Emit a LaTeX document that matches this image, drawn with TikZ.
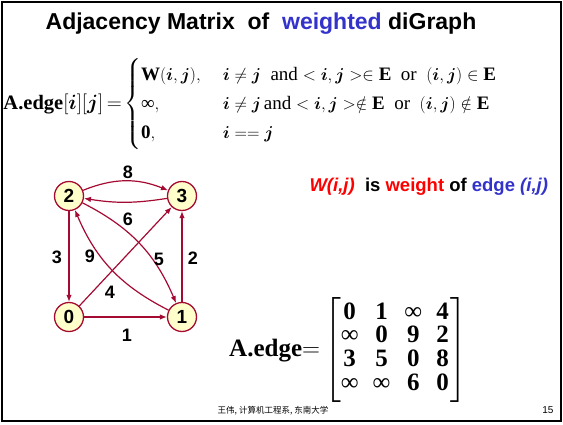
\documentclass[tikz,border=0pt]{standalone}
\usepackage{amsmath,amssymb}
\usepackage{fontspec}
\setmainfont{Liberation Serif}
\newfontfamily\arial{Liberation Sans}
\newfontfamily\cjk{Noto Sans CJK SC}
\usetikzlibrary{arrows.meta}
\definecolor{edgered}{RGB}{165,10,50}
\definecolor{nodefill}{RGB}{255,255,204}
\definecolor{wblue}{RGB}{51,51,204}
\newcommand{\bi}{\boldsymbol{i}}
\newcommand{\bj}{\boldsymbol{j}}
\newcommand{\infsym}{\text{\normalfont ∞}}
\tikzset{
  vtx/.style={circle, draw=edgered, fill=nodefill, line width=1.3pt, minimum size=29pt, inner sep=0pt, font=\arial\bfseries\fontsize{19}{19}\selectfont},
  arc/.style={draw=edgered, line width=1.2pt, -{Latex[length=7pt,width=5.5pt]}},
  wlbl/.style={font=\arial\bfseries\fontsize{18}{18}\selectfont},
  frame/.style={draw=black, line width=2pt}
}

\begin{document}
\begin{tikzpicture}[x=1pt,y=-1pt]
  \useasboundingbox (0,0) rectangle (563,425);
  \draw[frame] (2,2) rectangle (561,421);
  \node[font=\arial\bfseries\fontsize{23}{23}\selectfont] (title) at (261,24) {Adjacency Matrix\ \ of\ \ \textcolor{wblue}{weighted} diGraph};
  % definition of A.edge
  \node[anchor=base east, inner sep=0pt, font=\fontsize{20.5}{22}\selectfont] (deflhs) at (122,110) {$\textbf{A.edge}[\bi][\bj]\,{=}$};
  \node[anchor=west, inner sep=0pt, font=\fontsize{19}{29}\selectfont] (def) at (124,104) {$\left\{\begin{array}{@{}l@{\hspace{22pt}}l@{}}
    \textbf{W}(\bi,\bj), & \bi\neq\bj\ \ \text{and} <\bi,\bj>\in\textbf{E}\ \ \text{or}\ \ (\bi,\bj)\in\textbf{E}\\
    \infsym, & \bi\neq\bj\,\text{and} <\bi,\bj>\notin\textbf{E}\ \ \text{or}\ \ (\bi,\bj)\notin\textbf{E}\\
    \textbf{0}, & \bi==\bj
  \end{array}\right.$};
  % graph
  \node[vtx] (v2) at (69,196) {2};
  \node[vtx] (v3) at (182,196) {3};
  \node[vtx] (v0) at (69,317) {0};
  \node[vtx] (v1) at (182,317) {1};
  \draw[arc] (v2) -- (v0);
  \draw[arc] (v1) -- (v3);
  \draw[arc] (v0) -- (v1);
  \draw[arc] (v0) -- (v3);
  \draw[arc] (v2) to[bend left=22] (v3);
  \draw[arc] (v3) to[bend left=9] (v2);
  \draw[arc] (v2) to[bend left=20] (v1);
  \draw[arc] (v1) to[bend left=20] (v2);
  \node[wlbl] (w8) at (128,172) {8};
  \node[wlbl] (w6) at (128,219) {6};
  \node[wlbl] (w3) at (57,257) {3};
  \node[wlbl] (w9) at (90,256) {9};
  \node[wlbl] (w5) at (159,259) {5};
  \node[wlbl] (w2) at (193,258) {2};
  \node[wlbl] (w4) at (110,292) {4};
  \node[wlbl] (w1) at (127,335) {1};
  % weight note
  \node[anchor=west, font=\arial\bfseries\fontsize{18.5}{18.5}\selectfont] (note) at (306,187) {\textcolor{red}{\itshape W(i,j)}\ \ is \textcolor{red}{weight} of \textcolor{wblue}{edge} \textcolor{wblue}{\itshape (i,j)}};
  % matrix
  \node[anchor=west, inner sep=0pt, font=\fontsize{25}{23.5}\selectfont] (adj) at (229,350) {$\textbf{A.edge}{=}\left[\vcenter{\hbox{\rule{0pt}{100pt}}}\begin{array}{@{\hspace{0pt}}c@{\hspace{14pt}}c@{\hspace{14pt}}c@{\hspace{14pt}}c@{\hspace{2pt}}}
    \textbf{0} & \textbf{1} & \infsym & \textbf{4}\\
    \infsym & \textbf{0} & \textbf{9} & \textbf{2}\\
    \textbf{3} & \textbf{5} & \textbf{0} & \textbf{8}\\
    \infsym & \infsym & \textbf{6} & \textbf{0}
  \end{array}\right]$};
  % footer
  \node[font=\cjk\fontsize{8.5}{9}\selectfont] (foot) at (273,411) {王伟, 计算机工程系, 东南大学};
  \node[anchor=east, font=\arial\fontsize{10}{10}\selectfont] (page) at (557,410) {15};
\end{tikzpicture}
\end{document}
